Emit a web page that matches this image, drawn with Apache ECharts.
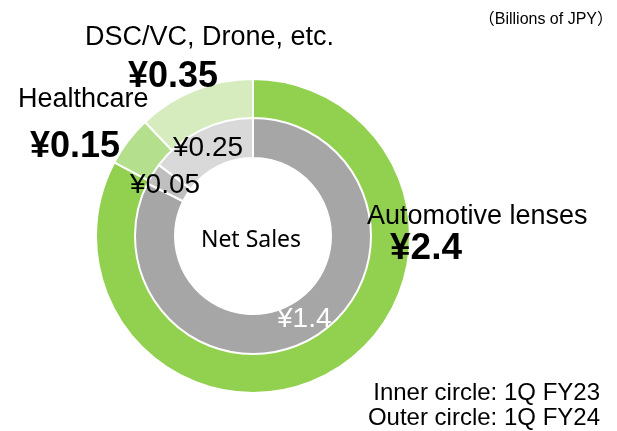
<!DOCTYPE html>
<html>
<head>
<meta charset="utf-8">
<script src="https://cdn.jsdelivr.net/npm/echarts@6/dist/echarts.min.js"></script>
<style>
  html, body { margin: 0; padding: 0; background: #fff; }
  #chart { width: 617px; height: 431px; }
</style>
</head>
<body>
<div id="chart"></div>
<script>
// 外側: 1Q FY24, 内側: 1Q FY23 (Billions of JPY)
var segNames = ['Automotive lenses', 'Healthcare', 'DSC/VC, Drone, etc.'];
var outerValues = [2.4, 0.15, 0.35];
var innerValues = [1.4, 0.05, 0.25];
var centerLabel = 'Net Sales';
var unitNote = '（Billions of JPY）';
var legendNotes = ['Inner circle: 1Q FY23', 'Outer circle: 1Q FY24'];

var outerColors = ['#92d050', '#b4df8c', '#d6ecbf'];
var innerColors = ['#a6a6a6', '#bfbfbf', '#d9d9d9'];

function yen(v) { return '¥' + v; }

var font = 'Arial, "Liberation Sans", "Noto Sans CJK JP", sans-serif';

var myChart = echarts.init(document.getElementById('chart'));

function txt(str, x, y, size, opt) {
  opt = opt || {};
  return {
    type: 'text',
    x: x, y: y,
    style: {
      text: str,
      fontFamily: opt.family || font,
      fontSize: size,
      fontWeight: opt.bold ? 'bold' : 'normal',
      fill: opt.color || '#000',
      align: opt.align || 'left',
      verticalAlign: 'middle'
    },
    z: 100
  };
}

myChart.setOption({
  animation: false,
  series: [
    {
      name: 'outer',
      type: 'pie',
      center: [253, 236],
      radius: [117, 157],
      startAngle: 90,
      clockwise: true,
      label: { show: false },
      labelLine: { show: false },
      itemStyle: { borderColor: '#fff', borderWidth: 2 },
      data: segNames.map(function (n, i) {
        return { name: n, value: outerValues[i], itemStyle: { color: outerColors[i] } };
      })
    },
    {
      name: 'inner',
      type: 'pie',
      center: [253, 236],
      radius: [78, 118],
      startAngle: 90,
      clockwise: true,
      label: { show: false },
      labelLine: { show: false },
      itemStyle: { borderColor: '#fff', borderWidth: 2 },
      data: segNames.map(function (n, i) {
        return { name: n, value: innerValues[i], itemStyle: { color: innerColors[i] } };
      })
    }
  ],
  graphic: [
    txt(unitNote, 613, 20, 16, { align: 'right' }),
    txt(segNames[2], 85, 38, 27),
    txt(yen(outerValues[2]), 128, 77, 36, { bold: true }),
    txt(segNames[1], 18, 100, 27),
    txt(yen(outerValues[1]), 30, 147, 36, { bold: true }),
    txt(yen(innerValues[2]), 173, 148, 28),
    txt(yen(innerValues[1]), 130, 185, 28),
    txt(centerLabel, 251, 240, 23, { align: 'center', family: '"Noto Sans", sans-serif' }),
    txt(yen(innerValues[0]), 277, 319, 28, { color: '#fff' }),
    txt(segNames[0], 367, 217, 27),
    txt(yen(outerValues[0]), 390, 249, 37, { bold: true }),
    txt(legendNotes[0], 600, 393, 24, { align: 'right' }),
    txt(legendNotes[1], 600, 418, 24, { align: 'right' })
  ]
});
</script>
</body>
</html>
